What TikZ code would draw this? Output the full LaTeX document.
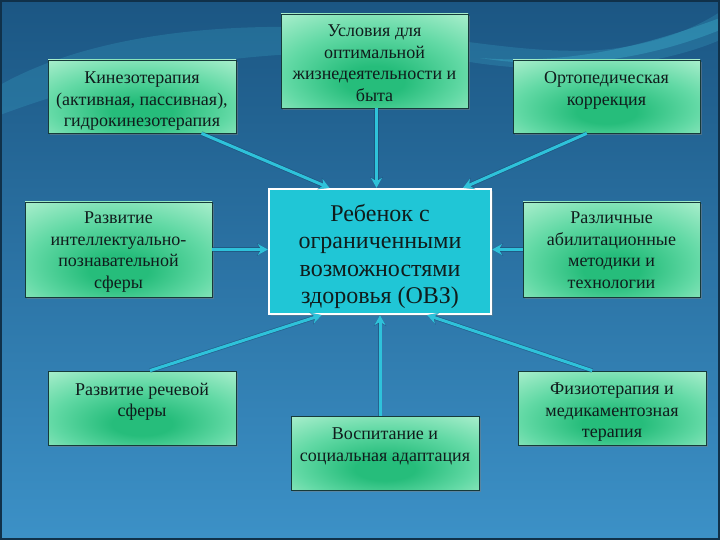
\documentclass[tikz,border=0pt]{standalone}
\usepackage{fontspec}
\setmainfont{Liberation Serif}
\usetikzlibrary{shadows,arrows.meta,calc}
\definecolor{bgtop}{HTML}{1B5683}
\definecolor{bgbot}{HTML}{3C91C7}
\definecolor{boxin}{HTML}{26BD7B}
\definecolor{boxmid}{HTML}{62D9A5}
\definecolor{boxout}{HTML}{ACEFCE}
\definecolor{boxline}{HTML}{163A3A}
\definecolor{cbox}{HTML}{20C6D6}
\definecolor{arrc}{HTML}{2EC2DA}
\definecolor{arrdark}{HTML}{17466A}
\definecolor{txtc}{HTML}{101C1C}
\definecolor{swoosh}{HTML}{3FB6D2}
\pgfdeclareradialshading{greenbox}{\pgfpoint{0bp}{-12bp}}{%
  color(0bp)=(boxin); color(8bp)=(boxin); color(24bp)=(boxmid);
  color(40bp)=(boxout); color(70bp)=(boxout)}
\tikzset{
  gbox/.style={draw=boxline, line width=0.8pt, shading=greenbox,
    drop shadow={opacity=0.45, shadow xshift=2pt, shadow yshift=-2pt}},
  gtxt/.style={anchor=north, align=center, inner sep=0pt, text=txtc,
    font=\fontsize{18}{21.5}\selectfont},
  cboxst/.style={fill=cbox, draw=white, line width=2.2pt,
    drop shadow={opacity=0.4, shadow xshift=2pt, shadow yshift=-2pt}},
  ctxt/.style={align=center, inner sep=0pt, text=txtc, font=\fontsize{24}{27.5}\selectfont},
  arr/.style={draw=arrc, line width=3pt, -{Stealth[length=10pt,width=11pt]},
    preaction={draw=arrdark, line width=4.4pt, opacity=0.5, -{Stealth[length=11pt,width=12.5pt]}}}
}
\begin{document}
\begin{tikzpicture}[x=1pt,y=-1pt]
\useasboundingbox (0,0) rectangle (720,540);
% background
\shade[top color=bgtop, bottom color=bgbot] (0,0) rectangle (720,540);
\fill[swoosh, opacity=0.22] (0,85) .. controls (80,40) and (200,22) .. (330,28)
  .. controls (450,35) and (520,55) .. (600,50) .. controls (660,45) and (700,25) .. (720,12)
  -- (720,40) .. controls (650,70) and (550,75) .. (470,62)
  .. controls (380,48) and (200,40) .. (0,115) -- cycle;
\fill[swoosh, opacity=0.35] (480,58) .. controls (580,66) and (660,40) .. (720,18)
  -- (720,30) .. controls (650,58) and (570,72) .. (480,58) -- cycle;
\draw[arrdark!70!black, line width=2pt] (1,1) rectangle (719,539);

% boxes
\node[gbox, minimum width=188pt, minimum height=73pt] (b1) at (142,96.5) {};
\node[gbox, minimum width=187pt, minimum height=94pt] (b2) at (374.5,61) {};
\node[gbox, minimum width=187pt, minimum height=73pt] (b3) at (606.5,96.5) {};
\node[gbox, minimum width=187pt, minimum height=95pt] (b5) at (118.5,249.5) {};
\node[gbox, minimum width=177pt, minimum height=95pt] (b6) at (611.5,249.5) {};
\node[gbox, minimum width=188pt, minimum height=74pt] (b7) at (142,408) {};
\node[gbox, minimum width=188pt, minimum height=74pt] (b8) at (385,453) {};
\node[gbox, minimum width=188pt, minimum height=74pt] (b9) at (612,408) {};
\node[cboxst, minimum width=222pt, minimum height=125pt] (c) at (380,251.5) {};

% texts
\node[gtxt] (t1) at ([yshift=-12pt]b1.north) {Кинезотерапия\\(активная, пассивная),\\гидрокинезотерапия};
\node[gtxt] (t2) at ([yshift=-11pt]b2.north) {Условия для\\оптимальной\\жизнедеятельности и\\быта};
\node[gtxt] (t3) at ([yshift=-12pt]b3.north) {Ортопедическая\\коррекция};
\node[gtxt] (t5) at ([yshift=-10pt]b5.north) {Развитие\\интеллектуально-\\познавательной\\сферы};
\node[gtxt] (t6) at ([yshift=-10pt]b6.north) {Различные\\абилитационные\\методики и\\технологии};
\node[gtxt] (t7) at ([yshift=-12pt]b7.north) {Развитие речевой\\сферы};
\node[gtxt] (t8) at ([yshift=-12pt]b8.north) {Воспитание и\\социальная адаптация};
\node[gtxt] (t9) at ([yshift=-12pt]b9.north) {Физиотерапия и\\медикаментозная\\терапия};
\node[ctxt] (tc) at ([yshift=-5pt]c.center) {Ребенок с\\ограниченными\\возможностями\\здоровья (ОВЗ)};

% arrows
\draw[arr] ($(b1.south)!0.63!(b1.south east)$) -- ($(c.north west)!0.55!(c.north)$);
\draw[arr] ([xshift=2pt]b2.south) -- ([xshift=2pt]b2.south |- c.north);
\draw[arr] ($(b3.south)!0.21!(b3.south west)$) -- ($(c.north)!0.74!(c.north east)$);
\draw[arr] (b5.east) -- (b5.east -| c.west);
\draw[arr] (b6.west) -- (b6.west -| c.east);
\draw[arr] ($(b7.north)!0.085!(b7.north east)$) -- ($(c.south west)!0.48!(c.south)$);
\draw[arr] ([xshift=-5pt]b8.north) -- ([xshift=-5pt]b8.north |- c.south);
\draw[arr] ($(b9.north)!0.21!(b9.north west)$) -- ($(c.south)!0.42!(c.south east)$);
\end{tikzpicture}
\end{document}
